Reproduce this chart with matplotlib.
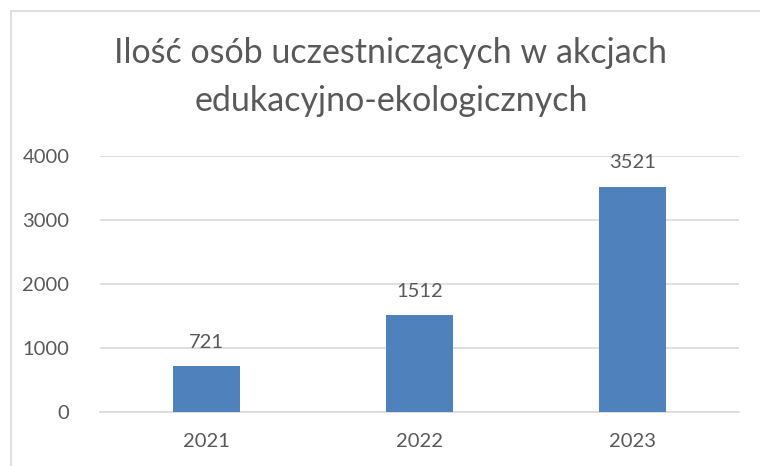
import matplotlib.pyplot as plt
from matplotlib.patches import Rectangle

# Dane
lata = ["2021", "2022", "2023"]
uczestnicy = [721, 1512, 3521]
yticks = [0, 1000, 2000, 3000, 4000]

tekst = "#595959"
siatka = "#D9D9D9"
niebieski = "#4F81BD"

plt.rcParams['font.family'] = ['Lato', 'DejaVu Sans']

W, H = 760, 466
fig = plt.figure(figsize=(W / 100, H / 100), dpi=100)
fig.patch.set_facecolor("white")

# ramka wykresu
fig.add_artist(Rectangle((11 / W, -0.2), 1.2, 1.2 - 11 / H + 0.0,
                         transform=fig.transFigure, fill=False,
                         edgecolor="#D9D9D9", linewidth=1.2))

ax = fig.add_axes([100 / W, (H - 412) / H, 639 / W, 256 / H])
x = range(len(lata))
bars = ax.bar(x, uczestnicy, width=0.314, color=niebieski, zorder=3)

ax.set_xlim(-0.5, len(lata) - 0.5)
ax.set_ylim(0, 4000)
ax.set_yticks(yticks)
ax.set_xticks(list(x))
ax.set_xticklabels(lata)
ax.grid(axis="y", color=siatka, linewidth=1.2, zorder=0)
for s in ["top", "right", "left"]:
    ax.spines[s].set_visible(False)
ax.spines["bottom"].set_color(siatka)
ax.spines["bottom"].set_linewidth(1.2)
ax.tick_params(axis="both", length=0, labelsize=14.5, colors=tekst)
ax.tick_params(axis="y", pad=22)
ax.tick_params(axis="x", pad=15)

for b, v in zip(bars, uczestnicy):
    ax.annotate(str(v), (b.get_x() + b.get_width() / 2, v),
                xytext=(0, 11), textcoords="offset points",
                ha="center", va="bottom", fontsize=14.5, color=tekst)

fig.text(0.5 + 11 / W, 1 - 77 / H, "Ilość osób uczestniczących w akcjach\nedukacyjno-ekologicznych",
         ha="center", va="center", fontsize=24.5, color=tekst, linespacing=1.6)

fig.savefig("out.png", dpi=100)
